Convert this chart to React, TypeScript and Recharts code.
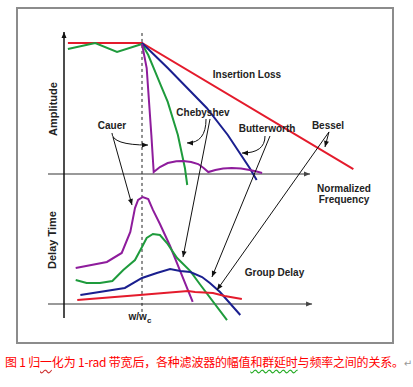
import { LineChart, Line, XAxis, YAxis, ReferenceLine, ReferenceDot } from "recharts";

const W = 413;
const H = 340;

// x: normalized frequency w/wc (0 = amplitude axis, 1 = cutoff)
// amplitude: passband = 1, frequency axis = 0
// delay: Cauer peak = 1, lower frequency axis = 0
const insertionLoss = [
  { f: 0.05, a: 1.0 },
  { f: 1.0, a: 1.0 },
  { f: 3.71, a: 0.038 },
];

const chebyshevAmp = [
  { f: 0.05, a: 0.954 },
  { f: 0.4, a: 1.0 },
  { f: 0.68, a: 0.931 },
  { f: 1.0, a: 0.992 },
  { f: 1.08, a: 0.908 },
  { f: 1.15, a: 0.809 },
  { f: 1.24, a: 0.679 },
  { f: 1.33, a: 0.55 },
  { f: 1.46, a: 0.298 },
  { f: 1.55, a: 0.046 },
  { f: 1.58, a: -0.084 },
];

const butterworthAmp = [
  { f: 1.0, a: 1.0 },
  { f: 1.33, a: 0.809 },
  { f: 1.83, a: 0.504 },
  { f: 2.1, a: 0.298 },
  { f: 2.38, a: 0.046 },
  { f: 2.47, a: -0.046 },
];

const cauerAmp = [
  { f: 1.0, a: 0.992 },
  { f: 1.06, a: 0.809 },
  { f: 1.12, a: 0.298 },
  { f: 1.15, a: 0.015 },
  { f: 1.23, a: 0.053 },
  { f: 1.33, a: 0.084 },
  { f: 1.44, a: 0.098 },
  { f: 1.53, a: 0.099 },
  { f: 1.63, a: 0.092 },
  { f: 1.72, a: 0.076 },
  { f: 1.79, a: 0.046 },
  { f: 1.85, a: 0.015 },
  { f: 1.94, a: 0.031 },
  { f: 2.04, a: 0.042 },
  { f: 2.15, a: 0.046 },
  { f: 2.27, a: 0.042 },
  { f: 2.38, a: 0.031 },
  { f: 2.47, a: 0.019 },
  { f: 2.54, a: 0.008 },
];

const cauerDelay = [
  { f: 0.15, d: 0.336 },
  { f: 0.55, d: 0.393 },
  { f: 0.74, d: 0.477 },
  { f: 0.85, d: 0.673 },
  { f: 0.91, d: 0.897 },
  { f: 0.95, d: 0.972 },
  { f: 1.01, d: 1.0 },
  { f: 1.08, d: 0.981 },
  { f: 1.14, d: 0.879 },
  { f: 1.23, d: 0.748 },
  { f: 1.36, d: 0.542 },
  { f: 1.49, d: 0.308 },
  { f: 1.65, d: 0.019 },
];

const chebyshevDelay = [
  { f: 0.15, d: 0.224 },
  { f: 0.29, d: 0.196 },
  { f: 0.46, d: 0.196 },
  { f: 0.62, d: 0.215 },
  { f: 0.76, d: 0.318 },
  { f: 0.91, d: 0.411 },
  { f: 1.0, d: 0.533 },
  { f: 1.06, d: 0.617 },
  { f: 1.14, d: 0.654 },
  { f: 1.23, d: 0.645 },
  { f: 1.32, d: 0.57 },
  { f: 1.45, d: 0.43 },
  { f: 1.62, d: 0.308 },
  { f: 1.74, d: 0.187 },
  { f: 2.09, d: -0.15 },
];

const butterworthDelay = [
  { f: 0.21, d: 0.084 },
  { f: 0.78, d: 0.15 },
  { f: 1.0, d: 0.243 },
  { f: 1.19, d: 0.29 },
  { f: 1.36, d: 0.327 },
  { f: 1.49, d: 0.308 },
  { f: 1.62, d: 0.299 },
  { f: 1.77, d: 0.252 },
  { f: 1.87, d: 0.196 },
  { f: 2.0, d: 0.112 },
  { f: 2.26, d: -0.103 },
];

const besselDelay = [
  { f: 0.17, d: 0.037 },
  { f: 0.97, d: 0.084 },
  { f: 1.59, d: 0.121 },
  { f: 1.68, d: 0.112 },
  { f: 1.91, d: 0.103 },
  { f: 2.06, d: 0.075 },
  { f: 2.28, d: 0.047 },
];

const labels = [
  { text: "Insertion Loss", f: 2.346, y: 0.763, axis: "amp" },
  { text: "Chebyshev", f: 1.782, y: 0.466, axis: "amp" },
  { text: "Butterworth", f: 2.603, y: 0.351, axis: "amp" },
  { text: "Bessel", f: 3.385, y: 0.374, axis: "amp" },
  { text: "Cauer", f: 0.615, y: 0.374, axis: "amp" },
  { text: "Normalized", f: 3.59, y: -0.107, axis: "amp" },
  { text: "Frequency", f: 3.59, y: -0.198, axis: "amp" },
  { text: "Group Delay", f: 2.699, y: 0.299, axis: "delay" },
];

const axisTitles = [
  { text: "Amplitude", f: -0.141, y: 0.496, axis: "amp" },
  { text: "Delay Time", f: -0.154, y: 0.598, axis: "delay" },
];

// pointers from the filter names to their curves (amplitude units)
const pointers = [
  { f1: 0.615, a1: 0.313, f2: 1.077, a2: 0.221, curved: true },
  { f1: 0.628, a1: 0.282, f2: 0.872, a2: -0.237, curved: false },
  { f1: 1.821, a1: 0.42, f2: 1.577, a2: 0.237, curved: true },
  { f1: 1.872, a1: 0.42, f2: 1.526, a2: -0.634, curved: false },
  { f1: 2.577, a1: 0.29, f2: 2.282, a2: 0.16, curved: true },
  { f1: 2.641, a1: 0.29, f2: 1.897, a2: -0.786, curved: false },
  { f1: 3.397, a1: 0.321, f2: 3.346, a2: 0.206, curved: false },
  { f1: 3.397, a1: 0.321, f2: 1.962, a2: -0.885, curved: false },
];

const RED = "#e41b2c";
const GREEN = "#1e9b3c";
const BLUE = "#1a1f8f";
const PURPLE = "#8e1c9c";
const FONT = "'Liberation Sans', Arial, sans-serif";

function head(x: number, y: number, dx: number, dy: number, color: string) {
  const len = Math.hypot(dx, dy) || 1;
  const ux = dx / len;
  const uy = dy / len;
  const bx = x - ux * 6;
  const by = y - uy * 6;
  const pts = `${x},${y} ${bx - uy * 2.5},${by + ux * 2.5} ${bx + uy * 2.5},${by - ux * 2.5}`;
  return <polygon points={pts} fill={color} />;
}

const arrow =
  (opts: { curved?: boolean; color?: string; width?: number; dash?: string; tip?: boolean; tipColor?: string }) =>
  (p: any) => {
    const { x1, y1, x2, y2 } = p;
    const color = opts.color ?? "#111";
    const tip = opts.tip ?? true;
    if (opts.curved) {
      return (
        <g>
          <path d={`M${x1},${y1} Q${x1},${y2} ${x2},${y2}`} fill="none" stroke={color} strokeWidth={opts.width ?? 1} />
          {tip && head(x2, y2, x2 - x1, 0, opts.tipColor ?? color)}
        </g>
      );
    }
    return (
      <g>
        <line x1={x1} y1={y1} x2={x2} y2={y2} stroke={color} strokeWidth={opts.width ?? 1} strokeDasharray={opts.dash} />
        {tip && head(x2, y2, x2 - x1, y2 - y1, opts.tipColor ?? color)}
      </g>
    );
  };

const textShape = (text: string, rotate = false, size = 10) => (p: any) => (
  <text
    x={p.cx}
    y={p.cy}
    textAnchor="middle"
    dominantBaseline="central"
    fontFamily={FONT}
    fontWeight="bold"
    fontSize={size}
    fill="#222"
    transform={rotate ? `rotate(-90 ${p.cx} ${p.cy})` : undefined}
  >
    {text}
  </text>
);

const cutoffLabel = (p: any) => (
  <text x={p.cx} y={p.cy} textAnchor="middle" dominantBaseline="central" fontFamily={FONT} fontWeight="bold" fontSize={10} fill="#222">
    w/w<tspan fontSize={8} dy={3}>c</tspan>
  </text>
);

const lineProps = { strokeWidth: 2, dot: false, activeDot: false, isAnimationActive: false, legendType: "none" as const };

function FilterChart() {
  return (
    <LineChart width={W} height={H} margin={{ top: 0, right: 0, bottom: 0, left: 0 }}>
      <XAxis type="number" dataKey="f" domain={[-64 / 78, (W - 64) / 78]} allowDataOverflow hide />
      <YAxis yAxisId="amp" type="number" domain={[(174 - H) / 131, 174 / 131]} allowDataOverflow hide />
      <YAxis yAxisId="delay" type="number" domain={[(304 - H) / 107, 304 / 107]} allowDataOverflow hide />

      {/* axes */}
      <ReferenceLine yAxisId="amp" ifOverflow="visible" segment={[{ x: -0.205, y: 0 }, { x: 3.154, y: 0 }]} shape={arrow({ color: "#999", width: 2, tipColor: "#444" })} />
      <ReferenceLine yAxisId="delay" ifOverflow="visible" segment={[{ x: -0.205, y: 0 }, { x: 3.18, y: 0 }]} shape={arrow({ color: "#999", width: 2, tipColor: "#444" })} />
      <ReferenceLine yAxisId="amp" ifOverflow="visible" segment={[{ x: 0, y: -1.099 }, { x: 0, y: 1.084 }]} shape={arrow({ color: "#111", width: 1.5 })} />
      <ReferenceLine yAxisId="amp" ifOverflow="visible" segment={[{ x: 1, y: -1.053 }, { x: 1, y: 1.076 }]} shape={arrow({ color: "#222", dash: "3 3", tip: false })} />

      <Line yAxisId="amp" data={insertionLoss} dataKey="a" stroke={RED} {...lineProps} />
      <Line yAxisId="amp" data={chebyshevAmp} dataKey="a" stroke={GREEN} {...lineProps} />
      <Line yAxisId="amp" data={butterworthAmp} dataKey="a" stroke={BLUE} {...lineProps} />
      <Line yAxisId="amp" data={cauerAmp} dataKey="a" stroke={PURPLE} {...lineProps} />

      <Line yAxisId="delay" data={cauerDelay} dataKey="d" stroke={PURPLE} {...lineProps} />
      <Line yAxisId="delay" data={chebyshevDelay} dataKey="d" stroke={GREEN} {...lineProps} />
      <Line yAxisId="delay" data={butterworthDelay} dataKey="d" stroke={BLUE} {...lineProps} />
      <Line yAxisId="delay" data={besselDelay} dataKey="d" stroke={RED} {...lineProps} />

      {pointers.map((p, i) => (
        <ReferenceLine
          key={"p" + i}
          yAxisId="amp"
          ifOverflow="visible"
          segment={[{ x: p.f1, y: p.a1 }, { x: p.f2, y: p.a2 }]}
          shape={arrow({ curved: p.curved })}
        />
      ))}

      {labels.map((l) => (
        <ReferenceDot key={l.text} yAxisId={l.axis} x={l.f} y={l.y} r={0} ifOverflow="visible" shape={textShape(l.text)} />
      ))}
      {axisTitles.map((l) => (
        <ReferenceDot key={l.text} yAxisId={l.axis} x={l.f} y={l.y} r={0} ifOverflow="visible" shape={textShape(l.text, true, 11)} />
      ))}
      <ReferenceDot yAxisId="delay" x={0.974} y={-0.121} r={0} ifOverflow="visible" shape={cutoffLabel} />
    </LineChart>
  );
}

export default function App() {
  return (
    <div style={{ position: "absolute", left: 0, top: 0, width: W, height: 387, background: "#fff" }}>
      <div
        style={{
          position: "absolute",
          left: 16,
          top: 7,
          width: 378,
          height: 337,
          border: "2px solid #8c8c8c",
          boxSizing: "border-box",
        }}
      />
      <div style={{ position: "absolute", left: 0, top: 0 }}>
        <FilterChart />
      </div>
      <div
        style={{
          position: "absolute",
          left: 5,
          top: 353,
          fontFamily: "'Noto Sans CJK SC', sans-serif",
          fontSize: 12,
          lineHeight: "18px",
          color: "#f00",
          whiteSpace: "nowrap",
          letterSpacing: -0.2,
        }}
      >
        图 1 归<span style={{ textDecoration: "underline wavy #c33", textUnderlineOffset: 2 }}>一</span>化为 1-rad 带宽后，各种滤波器的幅值
        <span style={{ textDecoration: "underline wavy #2a2", textUnderlineOffset: 2 }}>和群延时</span>与频率之间的关系。
        <span style={{ color: "#999", fontFamily: "'DejaVu Sans', sans-serif", fontSize: 10 }}>↵</span>
      </div>
    </div>
  );
}
